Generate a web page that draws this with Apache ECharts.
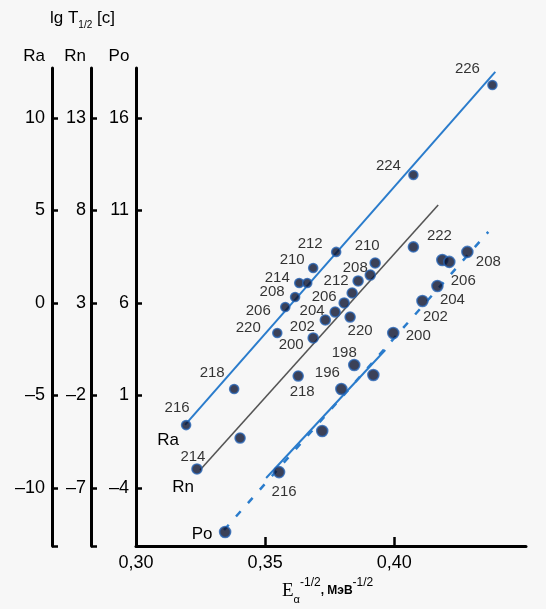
<!DOCTYPE html>
<html><head><meta charset="utf-8">
<script src="https://cdn.jsdelivr.net/npm/echarts@6/dist/echarts.min.js"></script>
<style>html,body{margin:0;padding:0;background:#f7f7f7}#c{width:546px;height:609px}</style>
</head><body><div id="c"></div>
<script>
// ---- data ----
const xTicks = [0.30, 0.35, 0.40];
const raTicks = [-10, -5, 0, 5, 10];
const rnTicks = [-7, -2, 3, 8, 13];
const poTicks = [-4, 1, 6, 11, 16];

const raMass = ['216','218','220','206','208','214','','210','212','224','226'];
const raX = [0.3194,0.3380,0.3547,0.3578,0.3616,0.3632,0.3663,0.3686,0.3775,0.4074,0.4380];
const raY = [-6.60,-4.65,-1.62,-0.22,0.32,1.08,1.08,1.89,2.76,6.92,11.78];

const rnMass = ['214','','218','200','202','204','206','','220','212','208','210','222'];
const rnX = [0.3236,0.3403,0.3628,0.3686,0.3733,0.3771,0.3806,0.3837,0.3829,0.3860,0.3907,0.3926,0.4074];
const rnY = [-5.97,-4.30,-0.95,1.11,2.08,2.51,3.00,3.54,2.24,4.19,4.51,5.16,6.03];

const poMass = ['','216','','196','198','','200','202','204','','206','208'];
const poX = [0.3345,0.3554,0.3721,0.3795,0.3845,0.3919,0.3996,0.4109,0.4167,0.4186,0.4213,0.4283];
const poY = [-6.38,-3.14,-0.92,1.35,2.65,2.11,4.38,6.11,6.92,8.32,8.22,8.76];

// fitted lines (endpoints in data units)
const raLineX = [0.3190, 0.4391], raLineY = [-6.59, 12.49];
const rnLineX = [0.3248, 0.4170], rnLineY = [-6.03, 8.30];
const poSolidX = [0.3504, 0.3965], poSolidY = [-3.46, 3.46];
const poDashX = [0.3341, 0.4364], poDashY = [-6.27, 9.84];

// ---- label placement (style) ----
const raLabelOffset = [[-9,-17],[-22,-16],[-29,-5],[-27,4],[-23,-5],[-22,-5],[0,0],[-21,-8],[-26,-8],[-25,-9],[-25,-16]];
const rnLabelOffset = [[-4,-12],[0,0],[4,16],[-22,7],[-23,7],[-23,-1],[-20,-6],[0,0],[10,14],[-22,0],[-15,-7],[-8,-17],[26,-11]];
const poLabelOffset = [[0,0],[5,20],[0,0],[-14,-16],[-10,-12],[0,0],[25,3],[13,16],[15,14],[0,0],[14,19],[21,10]];

const FONT = "'Liberation Sans', Arial, sans-serif";
const BLUE = '#2a7ccc';

function pts(xs, ys, names, offs) {
  return xs.map((x, i) => ({
    value: [x, ys[i]], name: names[i],
    label: names[i] ? { show: true, offset: offs[i] } : { show: false }
  }));
}
function linePts(xs, ys, tag, off) {
  return xs.map((x, i) => i === 0
    ? { value: [x, ys[i]], label: { show: true, formatter: tag, position: 'inside', offset: off, color: '#000', fontSize: 17, fontFamily: FONT } }
    : { value: [x, ys[i]], label: { show: false } });
}
function yAx(min, max, ticks, offset, margin, foot) {
  return {
    type: 'value', position: 'left', offset, min, max,
    axisLine: { show: true, onZero: false, lineStyle: { color: '#000', width: 3 } },
    axisTick: { show: true, inside: true, length: 6, lineStyle: { color: '#000', width: 2.5 },
      customValues: foot ? ticks.concat([min]) : ticks },
    axisLabel: { show: true, customValues: ticks, margin, color: '#000', fontSize: 18, fontFamily: FONT,
      formatter: v => String(v).replace('-', '\u2013') },
    splitLine: { show: false }
  };
}
const scatterStyle = { color: '#0b1330', borderColor: '#2864b4', borderWidth: 1.6 };
const scatterLabel = { position: 'inside', formatter: '{b}', color: '#000', fontSize: 15, fontFamily: FONT };
const lineBase = { showSymbol: true, symbol: 'circle', symbolSize: 0.1, silent: true, z: 1 };

const chart = echarts.init(document.getElementById('c'));
chart.setOption({
  animation: false,
  backgroundColor: '#f7f7f7',
  grid: { left: 136, right: 20, top: 68, bottom: 63 },
  xAxis: {
    type: 'value', min: 0.30, max: 0.451,
    axisLine: { show: true, onZero: false, lineStyle: { color: '#000', width: 3 } },
    axisTick: { show: true, inside: true, length: 9, lineStyle: { color: '#000', width: 2.5 }, customValues: xTicks.slice(1) },
    axisLabel: { customValues: xTicks, margin: 8, color: '#000', fontSize: 18, fontFamily: FONT,
      formatter: v => v.toFixed(2).replace('.', ',') },
    splitLine: { show: false }
  },
  yAxis: [
    yAx(-13.135, 12.7, raTicks, 84, 7, true),
    yAx(-10.135, 15.7, rnTicks, 45, 5, true),
    yAx(-7.135, 18.7, poTicks, 0, 7, false)
  ],
  graphic: [
    { type: 'text', left: 50, top: 10, style: {
      text: '{t|lg T}{s|1/2}{t| [c]}',
      rich: { t: { fontSize: 17, fontFamily: FONT, fill: '#000', lineHeight: 24 },
              s: { fontSize: 10, fontFamily: FONT, fill: '#000', verticalAlign: 'bottom' } } } },
    { type: 'text', x: 34, y: 56, style: { text: 'Ra', fontSize: 17, fontFamily: FONT, fill: '#000', align: 'center', verticalAlign: 'middle' } },
    { type: 'text', x: 75, y: 56, style: { text: 'Rn', fontSize: 17, fontFamily: FONT, fill: '#000', align: 'center', verticalAlign: 'middle' } },
    { type: 'text', x: 119, y: 56, style: { text: 'Po', fontSize: 17, fontFamily: FONT, fill: '#000', align: 'center', verticalAlign: 'middle' } },
    { type: 'text', left: 282, top: 577, style: {
      text: '{e|E}{sub|α}{sup|-1/2}{u|, МэВ}{sup|-1/2}',
      rich: {
        e: { fontSize: 19, fontFamily: "'Liberation Serif', 'DejaVu Serif', serif", fill: '#000', lineHeight: 28 },
        sub: { fontSize: 11, fontFamily: FONT, fill: '#000', verticalAlign: 'bottom' },
        sup: { fontSize: 12, fontFamily: FONT, fill: '#000', verticalAlign: 'top' },
        u: { fontSize: 12, fontFamily: FONT, fill: '#000', fontWeight: 'bold' }
      } } }
  ],
  series: [
    Object.assign({ type: 'line', yAxisIndex: 0, data: linePts(raLineX, raLineY, 'Ra', [-17, 15]),
      itemStyle: { color: BLUE }, lineStyle: { color: BLUE, width: 2 } }, lineBase),
    Object.assign({ type: 'line', yAxisIndex: 1, data: linePts(rnLineX, rnLineY, 'Rn', [-17, 17]),
      itemStyle: { color: '#555' }, lineStyle: { color: '#555', width: 1.6 } }, lineBase),
    Object.assign({ type: 'line', yAxisIndex: 2, data: poSolidX.map((x, i) => [x, poSolidY[i]]),
      itemStyle: { color: BLUE }, lineStyle: { color: BLUE, width: 2 } }, lineBase),
    Object.assign({ type: 'line', yAxisIndex: 2, data: linePts(poDashX, poDashY, 'Po', [-22, 4]),
      itemStyle: { color: BLUE }, lineStyle: { color: BLUE, width: 2.5, type: [7, 11] } }, lineBase),
    { type: 'scatter', yAxisIndex: 0, data: pts(raX, raY, raMass, raLabelOffset), symbolSize: 9,
      itemStyle: scatterStyle, label: scatterLabel, silent: true, z: 3 },
    { type: 'scatter', yAxisIndex: 1, data: pts(rnX, rnY, rnMass, rnLabelOffset), symbolSize: 10,
      itemStyle: scatterStyle, label: scatterLabel, silent: true, z: 3 },
    { type: 'scatter', yAxisIndex: 2, data: pts(poX, poY, poMass, poLabelOffset), symbolSize: 11,
      itemStyle: scatterStyle, label: scatterLabel, silent: true, z: 3 }
  ]
});
</script>
</body></html>
